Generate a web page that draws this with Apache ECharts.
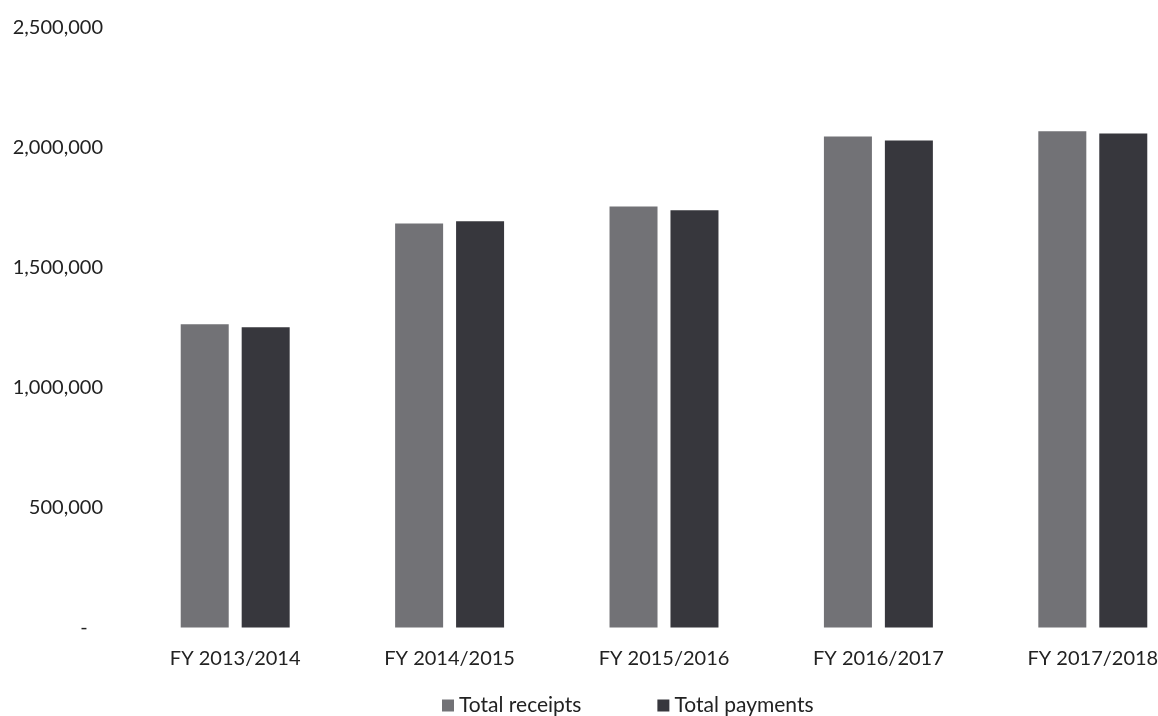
<!DOCTYPE html>
<html>
<head>
<meta charset="utf-8">
<script src="https://cdn.jsdelivr.net/npm/echarts@6/dist/echarts.min.js"></script>
<style>
html,body{margin:0;padding:0;background:#fff;overflow:hidden;}
#chart{width:1200px;height:716px;}
</style>
</head>
<body>
<div id="chart"></div>
<script>
const categories = ["FY 2013/2014","FY 2014/2015","FY 2015/2016","FY 2016/2017","FY 2017/2018"];
const totalReceipts = [1265000, 1685000, 1756000, 2048000, 2069000];
const totalPayments = [1252000, 1694000, 1740000, 2031000, 2060000];
const seriesNames = ["Total receipts","Total payments"];

const FONT = "Lato, 'Open Sans', 'Noto Sans', sans-serif";
const chart = echarts.init(document.getElementById('chart'), null, {renderer:'canvas'});
chart.setOption({
  animation:false,
  backgroundColor:'#ffffff',
  textStyle:{fontFamily:FONT},
  grid:{left:128, top:28, right:0, bottom:88.5, containLabel:false},
  legend:{
    top:695, left:442, padding:0,
    itemWidth:12, itemHeight:12, itemGap:76,
    icon:'rect',
    textStyle:{fontSize:21, color:'#222', fontFamily:FONT},
    data:seriesNames
  },
  xAxis:{
    type:'category', data:categories,
    axisLine:{show:false}, axisTick:{show:false},
    axisLabel:{fontSize:20, color:'#222', margin:21, fontFamily:FONT}
  },
  yAxis:{
    type:'value', min:0, max:2500000, interval:500000,
    axisLine:{show:false}, axisTick:{show:false},
    splitLine:{show:false},
    axisLabel:{
      fontSize:20, color:'#222', margin:25, fontFamily:FONT,
      formatter:v => v === 0 ? '-\u00a0\u00a0\u00a0' : v.toLocaleString('en-US')
    }
  },
  series:[
    {name:seriesNames[0], type:'bar', data:totalReceipts, barWidth:48, barGap:'27%',
     itemStyle:{color:'#727276'}},
    {name:seriesNames[1], type:'bar', data:totalPayments, barWidth:48,
     itemStyle:{color:'#37373d'}}
  ]
});
</script>
</body>
</html>
